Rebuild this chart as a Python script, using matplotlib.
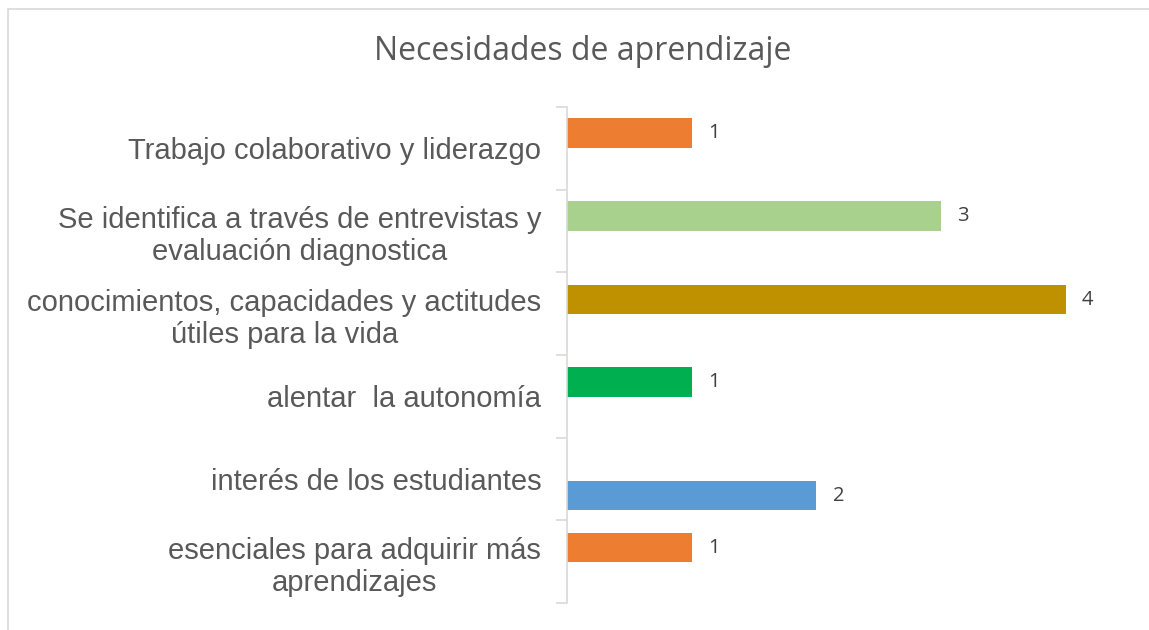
import matplotlib.pyplot as plt
from matplotlib.patches import Rectangle

# data (bottom to top, as drawn)
categories = ["esenciales para adquirir más\naprendizajes",
              "interés de los estudiantes",
              "alentar  la autonomía",
              "conocimientos, capacidades y actitudes\nútiles para la vida",
              "Se identifica a través de entrevistas y\nevaluación diagnostica",
              "Trabajo colaborativo y liderazgo"]
values = [1, 2, 1, 4, 3, 1]
colors = ['#ED7D31', '#5B9BD5', '#00B050', '#BF9000', '#A9D18E', '#ED7D31']
# bars sit a little off the category centre in the original
bar_offset = [0.17, -0.2, 0.17, 0.17, 0.18, 0.19]

fig = plt.figure(figsize=(11.49, 6.30), dpi=100)
W, H = 1149, 630
ax = fig.add_axes([567 / W, 1 - 603 / H, (1128 - 567) / W, (603 - 107) / H])

ypos = [i + o for i, o in enumerate(bar_offset)]
bars = ax.barh(ypos, values, height=0.36, color=colors)
for b, v in zip(bars, values):
    ax.text(v + 0.13, b.get_y() + b.get_height() / 2, str(v), va='center', ha='left',
            fontsize=14.5, color='#404040', family='Open Sans')

ax.set_xlim(0, 4.5)
ax.set_ylim(-0.5, len(categories) - 0.5)
ax.set_yticks([i - 0.5 for i in range(len(categories) + 1)])
ax.set_yticklabels([])
ax.set_yticks(range(len(categories)), minor=True)
ax.set_yticklabels(categories, minor=True)
ax.tick_params(axis='y', which='major', length=8, color='#d9d9d9', width=1.2)
ax.tick_params(axis='y', which='minor', length=0, pad=18.5, labelsize=21, labelcolor='#595959')
for lab in ax.get_yticklabels(minor=True):
    lab.set_multialignment('center')
    lab.set_family('Liberation Sans')
    lab.set_linespacing(1.2)
ax.set_xticks([])
for s in ['top', 'right', 'bottom']:
    ax.spines[s].set_visible(False)
ax.spines['left'].set_color('#d9d9d9')
ax.spines['left'].set_linewidth(1.2)

fig.text(583 / W, 1 - 52 / H, "Necesidades de aprendizaje", ha='center', va='center',
         fontsize=23, color='#595959', family='Open Sans')

# chart frame
fig.patches.append(Rectangle((8 / W, -0.01), 1.05, 1 - 9 / H + 0.01, transform=fig.transFigure,
                             fill=False, edgecolor='#d9d9d9', linewidth=1.2))

plt.savefig('out.png', dpi=100)
